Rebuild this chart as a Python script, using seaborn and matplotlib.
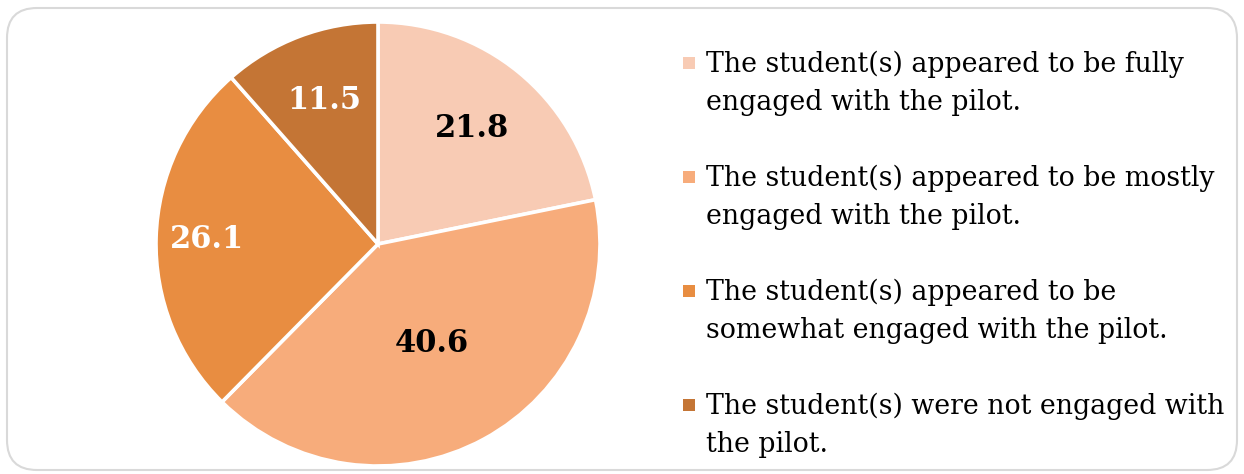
import numpy as np
import seaborn as sns
from matplotlib import pyplot as plt
from matplotlib.patches import FancyBboxPatch, Rectangle

categories = [
    'The student(s) appeared to be fully\nengaged with the pilot.',
    'The student(s) appeared to be mostly\nengaged with the pilot.',
    'The student(s) appeared to be\nsomewhat engaged with the pilot.',
    'The student(s) were not engaged with\nthe pilot.',
]
values = [21.8, 40.6, 26.1, 11.5]
colors = ['#F8CBB4', '#F7AC7B', '#E88D41', '#C47535']
label_colors = ['black', 'black', 'white', 'white']
label_dist = [0.67, 0.51, 0.77, 0.69]

sns.set_theme(style='white')
plt.rcParams['font.family'] = ['DejaVu Serif']

W, H = 1244, 474
fig = plt.figure(figsize=(W / 100, H / 100), dpi=100)

# overlay in pixel coordinates for the frame and the legend
bg = fig.add_axes([0, 0, 1, 1])
bg.set_xlim(0, W)
bg.set_ylim(H, 0)
bg.axis('off')
bg.add_patch(FancyBboxPatch((7, 8), 1230, 462, boxstyle='round,pad=0,rounding_size=30',
                            facecolor='white', edgecolor='#D9D9D9', linewidth=1.5))

# pie
cx, cy, r = 378, 244, 222
ax = fig.add_axes([(cx - r) / W, (H - cy - r) / H, 2 * r / W, 2 * r / H])
wedges, _ = ax.pie(values, colors=colors, startangle=90, counterclock=False, radius=1,
                   wedgeprops={'edgecolor': 'white', 'linewidth': 2.6})
ax.set_xlim(-1, 1)
ax.set_ylim(-1, 1)
ax.set_aspect('equal')

for w, v, c, d in zip(wedges, values, label_colors, label_dist):
    ang = np.deg2rad((w.theta1 + w.theta2) / 2)
    ax.text(d * np.cos(ang), d * np.sin(ang), f'{v:.1f}', ha='center', va='center',
            fontsize=22, fontweight='bold', color=c)

# legend, marker aligned to first line as in the original
y0, step = 51, 114
for i, (lab, col) in enumerate(zip(categories, colors)):
    y = y0 + i * step
    bg.add_patch(Rectangle((683, y + 6), 12, 12, facecolor=col, edgecolor='none'))
    bg.text(706, y, lab, ha='left', va='top', fontsize=19.3, color='black', linespacing=1.5)

fig.savefig('out.png', dpi=100)
